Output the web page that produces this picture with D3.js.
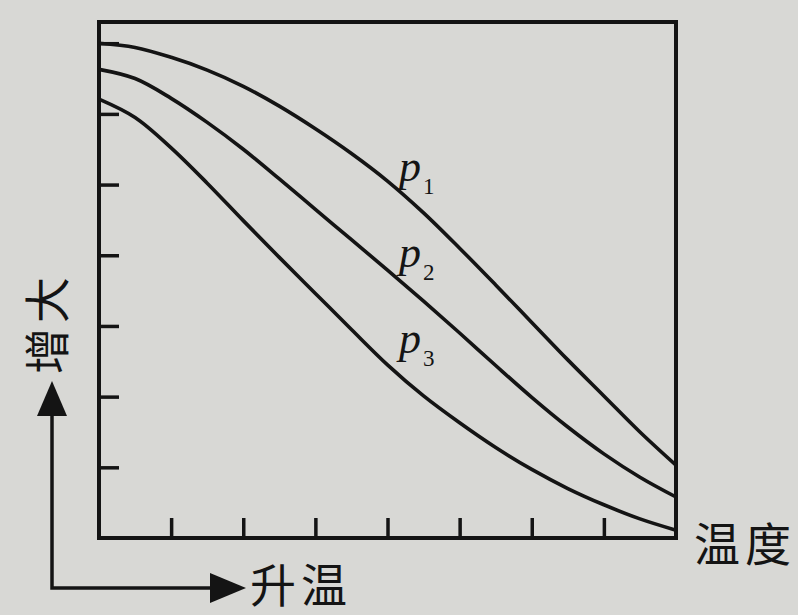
<!DOCTYPE html>
<html><head><meta charset="utf-8">
<script src="https://cdn.jsdelivr.net/npm/d3@7"></script>
<style>
html,body{margin:0;padding:0;background:#d8d8d5;}
svg{display:block;}
</style></head>
<body>
<svg id="chart" width="798" height="615"></svg>
<script>
// ---- data ----
const xValues = [0,0.5,1,1.5,2,2.5,3,3.5,4,4.5,5,5.5,6,6.5,7,7.5,8];
const p1 = [7.00,6.94,6.80,6.62,6.39,6.11,5.79,5.44,5.05,4.60,4.10,3.58,3.05,2.52,2.01,1.50,1.03];
const p2 = [6.63,6.50,6.22,5.88,5.50,5.08,4.65,4.22,3.79,3.35,2.90,2.44,1.99,1.57,1.19,0.86,0.58];
const p3 = [6.21,5.95,5.52,5.02,4.49,3.97,3.46,2.95,2.45,2.01,1.63,1.28,0.97,0.70,0.47,0.27,0.11];
const seriesNames = ["1","2","3"];
const xTicks = [1,2,3,4,5,6,7];
const yTicks = [1,2,3,4,5,6,7];
const xLabel = "温度";
const xArrowLabel = "升温";
const yArrowLabel = "增大";

const svg = d3.select("#chart");
const ink = "#141414";
const x = d3.scaleLinear().domain([0,8]).range([99,676]);
const y = d3.scaleLinear().domain([0,7.3]).range([538,22]);

// axes ticks (inward)
const gx = svg.append("g").attr("transform","translate(0,538)")
  .call(d3.axisBottom(x).tickValues(xTicks).tickSize(-20).tickFormat(""));
const gy = svg.append("g").attr("transform","translate(99,0)")
  .call(d3.axisLeft(y).tickValues(yTicks).tickSize(-20).tickFormat(""));
[gx,gy].forEach(g=>{
  g.select(".domain").remove();
  g.selectAll(".tick line").attr("stroke",ink).attr("stroke-width",3.5);
});

// frame
svg.append("rect").attr("x",x(0)).attr("y",y(7.3)).attr("width",x(8)-x(0)).attr("height",y(0)-y(7.3))
  .attr("fill","none").attr("stroke",ink).attr("stroke-width",4);

// curves
const line = d3.line().x((d,i)=>x(xValues[i])).y(d=>y(d)).curve(d3.curveCatmullRom.alpha(0.5));
[p1,p2,p3].forEach(s=>{
  svg.append("path").attr("d",line(s)).attr("fill","none").attr("stroke",ink).attr("stroke-width",3.6);
});

// curve labels
const labY = [181,267,353];
seriesNames.forEach((n,i)=>{
  const t = svg.append("text").attr("x",399).attr("y",labY[i]).attr("fill",ink)
    .attr("font-family","'Liberation Serif','DejaVu Serif',serif");
  t.append("tspan").attr("font-style","italic").attr("font-size",44).text("p");
  t.append("tspan").attr("font-size",23).attr("dx",2).attr("dy",13).text(n);
});

// x label
svg.append("text").attr("x",694).attr("y",561).attr("fill",ink)
  .attr("font-family","'Noto Sans CJK SC',sans-serif").attr("font-size",46)
  .attr("letter-spacing",5).text(xLabel);

// arrows
svg.append("path").attr("d","M52,412 L52,588 L214,588").attr("fill","none").attr("stroke",ink).attr("stroke-width",3.5);
svg.append("path").attr("d","M52,381 L37,416 L67,416 Z").attr("fill",ink);
svg.append("path").attr("d","M246,588 L210,573 L210,603 Z").attr("fill",ink);

svg.append("text").attr("x",250).attr("y",602).attr("fill",ink)
  .attr("font-family","'Noto Sans CJK SC',sans-serif").attr("font-size",46)
  .attr("letter-spacing",5).text(xArrowLabel);

svg.append("text").attr("transform","translate(64,374) rotate(-90)").attr("x",0).attr("y",0).attr("fill",ink)
  .attr("font-family","'Noto Sans CJK SC',sans-serif").attr("font-size",46)
  .attr("letter-spacing",5).text(yArrowLabel);
</script>
</body></html>
